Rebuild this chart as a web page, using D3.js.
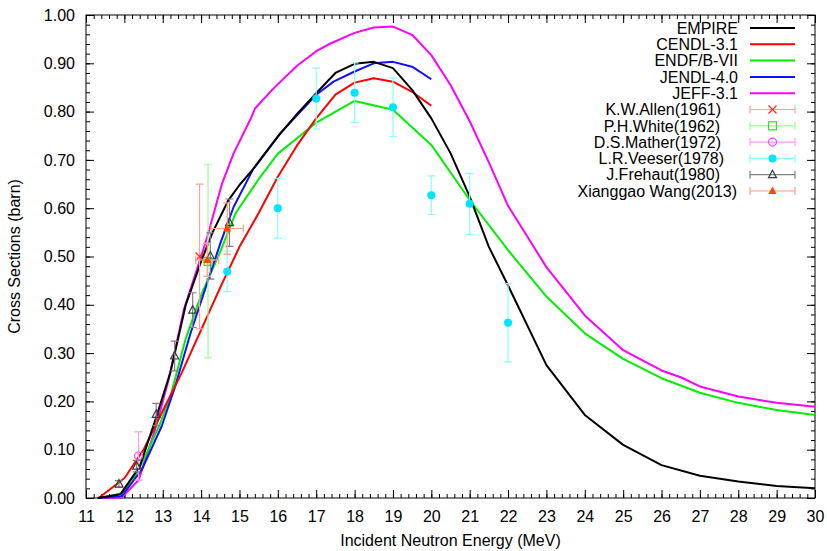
<!DOCTYPE html>
<html><head><meta charset="utf-8">
<script src="https://cdn.jsdelivr.net/npm/d3@7"></script>
<style>body{margin:0;background:#fff} svg text{font-family:"Liberation Sans",Arial,Helvetica,sans-serif}</style>
</head><body><svg id="c" width="827" height="551"></svg>
<script>
// ---------- evaluated data ----------
const empireE = [11.3, 11.9, 12.4, 12.8, 13.2, 13.6, 14.0, 14.3, 14.7, 15.0, 15.4, 16, 16.5, 17, 17.5, 18, 18.5, 19, 19.5, 20, 20.5, 21, 21.5, 22, 23, 24, 25, 26, 27, 28, 29, 30];
const empireV = [0, 0.008, 0.065, 0.16, 0.26, 0.40, 0.49, 0.55, 0.615, 0.648, 0.685, 0.748, 0.795, 0.838, 0.88, 0.899, 0.903, 0.89, 0.845, 0.786, 0.714, 0.624, 0.52, 0.44, 0.275, 0.172, 0.11, 0.068, 0.046, 0.034, 0.025, 0.02];
const cendlE = [11.33, 12.0, 12.5, 13.0, 13.5, 14.0, 14.5, 15.0, 15.5, 16.0, 16.5, 17.0, 17.5, 18.0, 18.5, 19.0, 19.5, 20.0];
const cendlV = [0, 0.041, 0.1, 0.18, 0.26, 0.348, 0.436, 0.52, 0.59, 0.665, 0.73, 0.786, 0.835, 0.86, 0.869, 0.862, 0.841, 0.812];
const endfE = [11.4, 11.93, 12.2, 12.5, 12.9, 13.2, 13.6, 14.0, 14.5, 14.9, 15.5, 16, 17, 18, 19, 20, 21, 22, 23, 24, 25, 26, 27, 28, 29, 30];
const endfV = [0, 0.01, 0.034, 0.079, 0.148, 0.21, 0.33, 0.42, 0.51, 0.59, 0.66, 0.713, 0.777, 0.822, 0.804, 0.731, 0.617, 0.513, 0.417, 0.341, 0.288, 0.248, 0.218, 0.197, 0.182, 0.172];
const jendlE = [11.33, 11.93, 12.45, 12.97, 13.32, 13.72, 14.2, 14.5, 14.85, 15.37, 16.07, 17.0, 17.45, 18.0, 18.5, 19.0, 19.5, 20.0];
const jendlV = [0, 0.004, 0.058, 0.148, 0.23, 0.34, 0.455, 0.527, 0.603, 0.683, 0.756, 0.835, 0.862, 0.883, 0.9, 0.903, 0.893, 0.867];
const jeffE = [11.4, 11.93, 12.37, 12.8, 13.15, 13.55, 14.0, 14.16, 14.55, 14.85, 15.28, 15.41, 15.85, 16.07, 16.5, 17.0, 17.37, 18.0, 18.5, 19.0, 19.5, 20.0, 20.5, 21.0, 21.5, 22, 23, 24, 25, 26, 26.5, 27, 28, 29, 30];
const jeffV = [0, 0.001, 0.037, 0.141, 0.244, 0.39, 0.50, 0.541, 0.652, 0.714, 0.783, 0.807, 0.845, 0.862, 0.895, 0.925, 0.941, 0.963, 0.974, 0.976, 0.959, 0.917, 0.855, 0.78, 0.695, 0.605, 0.478, 0.378, 0.306, 0.264, 0.25, 0.231, 0.21, 0.197, 0.189];

// ---------- experimental data ----------
const allenE = [13.96], allenV = [0.50], allenDV = [0.15];
const whiteE = [14.18], whiteV = [0.49], whiteDV = [0.20];
const matherE = [12.37], matherV = [0.087], matherDV = [0.05];
const veeserE = [14.68, 16.0, 17.0, 18.0, 19.0, 20.0, 21.0, 22.0];
const veeserV = [0.469, 0.60, 0.827, 0.839, 0.809, 0.627, 0.609, 0.363];
const veeserDV = [0.042, 0.062, 0.063, 0.062, 0.061, 0.04, 0.063, 0.081];
const frehautE = [11.86, 12.32, 12.83, 13.31, 13.78, 14.24, 14.74];
const frehautV = [0.029, 0.066, 0.173, 0.294, 0.389, 0.501, 0.570];
const frehautDV = [0.007, 0.012, 0.023, 0.031, 0.036, 0.048, 0.049];
const wangE = [14.16, 14.68], wangV = [0.493, 0.558], wangDV = [0.034, 0.053], wangDE = [0.30, 0.42];

const xTicks = d3.range(11, 31, 1);
const yTicks = d3.range(0, 1.0001, 0.1);

// ---------- layout ----------
const W = 827, H = 551;
const L = 86, R = 815, T = 15, B = 498;
const svg = d3.select("#c");
const x = d3.scaleLinear().domain([11, 30]).range([L, R]);
const y = d3.scaleLinear().domain([0, 1]).range([B, T]);

function styleAxis(g){ g.select(".domain").remove(); g.selectAll("line").attr("stroke","#000"); }
const xMinor = d3.range(11, 30.0001, 0.2);
const yMinor = d3.range(0, 1.0001, 0.02);
svg.append("g").attr("transform",`translate(0,${B})`).call(d3.axisBottom(x).tickValues(xMinor).tickSize(-4).tickFormat("")).call(styleAxis);
svg.append("g").attr("transform",`translate(0,${T})`).call(d3.axisTop(x).tickValues(xMinor).tickSize(-4).tickFormat("")).call(styleAxis);
svg.append("g").attr("transform",`translate(${L},0)`).call(d3.axisLeft(y).tickValues(yMinor).tickSize(-4).tickFormat("")).call(styleAxis);
svg.append("g").attr("transform",`translate(${R},0)`).call(d3.axisRight(y).tickValues(yMinor).tickSize(-4).tickFormat("")).call(styleAxis);

const gx = svg.append("g").attr("transform",`translate(0,${B})`)
  .call(d3.axisBottom(x).tickValues(xTicks).tickSize(-8).tickPadding(13).tickFormat(d3.format("d"))).call(styleAxis);
gx.selectAll("text").attr("font-size",16).attr("fill","#000").attr("font-family","Liberation Sans, Arial, sans-serif");
svg.append("g").attr("transform",`translate(0,${T})`).call(d3.axisTop(x).tickValues(xTicks).tickSize(-8).tickFormat("")).call(styleAxis);
const gy = svg.append("g").attr("transform",`translate(${L},0)`)
  .call(d3.axisLeft(y).tickValues(yTicks).tickSize(-8).tickPadding(11).tickFormat(d3.format(".2f"))).call(styleAxis);
gy.selectAll("text").attr("font-size",16).attr("fill","#000").attr("font-family","Liberation Sans, Arial, sans-serif");
svg.append("g").attr("transform",`translate(${R},0)`).call(d3.axisRight(y).tickValues(yTicks).tickSize(-8).tickFormat("")).call(styleAxis);

svg.append("rect").attr("x",L).attr("y",T).attr("width",R-L).attr("height",B-T)
  .attr("fill","none").attr("stroke","#000").attr("stroke-width",1);

svg.append("text").attr("x",(L+R)/2).attr("y",546).attr("text-anchor","middle")
  .attr("font-size",16).text("Incident Neutron Energy (MeV)");
svg.append("text").attr("transform",`translate(20,${(T+B)/2}) rotate(-90)`).attr("text-anchor","middle")
  .attr("font-size",16).text("Cross Sections (barn)");

// ---------- curves ----------
const curves = [
  {name:"EMPIRE", E:empireE, V:empireV, color:"#000000"},
  {name:"CENDL-3.1", E:cendlE, V:cendlV, color:"#ff0000"},
  {name:"ENDF/B-VII", E:endfE, V:endfV, color:"#00f000"},
  {name:"JENDL-4.0", E:jendlE, V:jendlV, color:"#1010ff"},
  {name:"JEFF-3.1", E:jeffE, V:jeffV, color:"#ff00ff"}
];
const line = d3.line().x(d=>x(d[0])).y(d=>y(d[1]));
[curves[4], curves[2], curves[3], curves[1], curves[0]].forEach(c=>{
  svg.append("path").attr("d", line(d3.zip(c.E, c.V))).attr("fill","none")
    .attr("stroke", c.color).attr("stroke-width",2).attr("stroke-linejoin","round");
});

// ---------- markers ----------
function marker(g, type, cx, cy, color){
  const s = 4;
  if(type==="x"){
    g.append("path").attr("d",`M${cx-s},${cy-s}L${cx+s},${cy+s}M${cx-s},${cy+s}L${cx+s},${cy-s}`).attr("stroke",color).attr("stroke-width",1.3);
  } else if(type==="square"){
    g.append("rect").attr("x",cx-s).attr("y",cy-s).attr("width",2*s).attr("height",2*s).attr("fill","none").attr("stroke",color).attr("stroke-width",1.2);
  } else if(type==="circle"){
    g.append("circle").attr("cx",cx).attr("cy",cy).attr("r",s).attr("fill","none").attr("stroke",color).attr("stroke-width",1.2);
  } else if(type==="dot"){
    g.append("circle").attr("cx",cx).attr("cy",cy).attr("r",4).attr("fill",color);
  } else if(type==="tri"){
    g.append("path").attr("d",`M${cx},${cy-s-0.5}L${cx+s},${cy+s-1}L${cx-s},${cy+s-1}Z`).attr("fill","none").attr("stroke",color).attr("stroke-width",1.2);
  } else if(type==="ftri"){
    g.append("path").attr("d",`M${cx},${cy-s-0.5}L${cx+s},${cy+s-1}L${cx-s},${cy+s-1}Z`).attr("fill",color);
  }
}
const exps = [
  {name:"K.W.Allen(1961)", E:allenE, V:allenV, DV:allenDV, type:"x", color:"#ff2a2a", err:"#ffa0a0", tx:721},
  {name:"P.H.White(1962)", E:whiteE, V:whiteV, DV:whiteDV, type:"square", color:"#33dd33", err:"#99ff99", tx:720},
  {name:"D.S.Mather(1972)", E:matherE, V:matherV, DV:matherDV, type:"circle", color:"#ff44ff", err:"#ff99ff", tx:721},
  {name:"L.R.Veeser(1978)", E:veeserE, V:veeserV, DV:veeserDV, type:"dot", color:"#00e5ff", err:"#88ffff", tx:724},
  {name:"J.Frehaut(1980)", E:frehautE, V:frehautV, DV:frehautDV, type:"tri", color:"#3c3c3c", err:"#808080", tx:720},
  {name:"Xianggao Wang(2013)", E:wangE, V:wangV, DV:wangDV, DE:wangDE, type:"ftri", color:"#ff4400", err:"#ffa080", tx:737}
];
const cap = 4;
exps.forEach(ex=>{
  const g = svg.append("g");
  ex.E.forEach((e,i)=>{
    const cx = x(e), cy = y(ex.V[i]);
    const y1 = y(ex.V[i]-ex.DV[i]), y2 = y(ex.V[i]+ex.DV[i]);
    g.append("path").attr("d",`M${cx},${y1}L${cx},${y2}M${cx-cap},${y1}L${cx+cap},${y1}M${cx-cap},${y2}L${cx+cap},${y2}`)
      .attr("stroke",ex.err).attr("stroke-width",1.2).attr("fill","none");
    if(ex.DE){
      const x1 = x(e-ex.DE[i]), x2 = x(e+ex.DE[i]);
      g.append("path").attr("d",`M${x1},${cy}L${x2},${cy}M${x1},${cy-cap}L${x1},${cy+cap}M${x2},${cy-cap}L${x2},${cy+cap}`)
        .attr("stroke",ex.err).attr("stroke-width",1.2).attr("fill","none");
    }
  });
  ex.E.forEach((e,i)=> marker(g, ex.type, x(e), y(ex.V[i]), ex.color));
});

// ---------- legend ----------
const lgTop = 28, lgStep = 16.3, lgX1 = 750, lgX2 = 795, lgText = 738;
const lg = svg.append("g");
curves.forEach((c,i)=>{
  const yy = lgTop + i*lgStep;
  lg.append("text").attr("x",lgText).attr("y",yy).attr("dy","0.36em").attr("text-anchor","end").attr("font-size",16).text(c.name);
  lg.append("line").attr("x1",lgX1).attr("x2",lgX2).attr("y1",yy).attr("y2",yy).attr("stroke",c.color).attr("stroke-width",2);
});
exps.forEach((ex,j)=>{
  const yy = lgTop + (j+5)*lgStep;
  lg.append("text").attr("x",ex.tx).attr("y",yy).attr("dy","0.36em").attr("text-anchor","end").attr("font-size",16).text(ex.name);
  lg.append("path").attr("d",`M${lgX1},${yy}L${lgX2},${yy}M${lgX1},${yy-cap}L${lgX1},${yy+cap}M${lgX2},${yy-cap}L${lgX2},${yy+cap}`)
    .attr("stroke",ex.err).attr("stroke-width",1.2).attr("fill","none");
  marker(lg, ex.type, (lgX1+lgX2)/2, yy, ex.color);
});
</script></body></html>
